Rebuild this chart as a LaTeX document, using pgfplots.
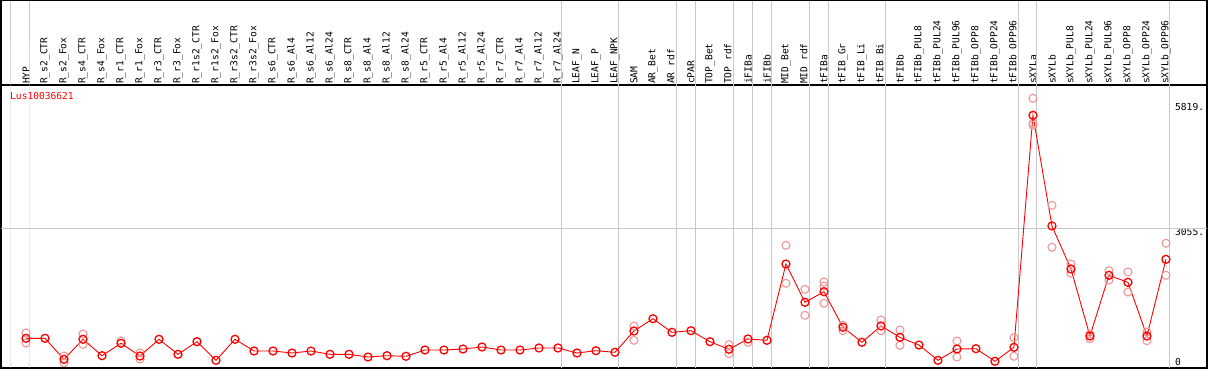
\documentclass[border=0pt]{standalone}
\usepackage{fontspec}
\setmonofont{DejaVu Sans Mono}
\usepackage{pgfplots}
\usepackage{pgfplotstable}
\pgfplotsset{compat=1.18}
\definecolor{rep}{RGB}{238,150,150}
\definecolor{gridg}{RGB}{200,200,200}
\newcommand{\pixfont}{\ttfamily\fontsize{9.6}{10}\selectfont}

\pgfplotstableread{
x y
1 613
2 613
3 148
4 591
5 228
6 503
7 221
8 591
9 259
10 538
11 126
12 591
13 332
14 332
15 288
16 332
17 259
18 259
19 199
20 228
21 215
22 354
23 354
24 376
25 421
26 354
27 354
28 399
29 399
30 288
31 339
32 303
33 775
34 1047
35 746
36 782
37 538
38 370
39 598
40 569
41 2258
42 1410
43 1645
44 857
45 525
46 886
47 635
48 465
49 126
50 376
51 383
52 104
53 414
54 5550
55 3100
56 2148
57 664
58 2008
59 1853
60 664
61 2362
}\means

\pgfplotstableread{
x y
1 731
1 509
3 221
3 73
4 708
4 480
6 553
7 288
7 155
33 886
33 569
38 472
38 272
39 525
41 2672
41 1831
42 1698
42 1122
43 1860
43 1771
43 1388
44 901
44 782
46 1018
46 782
47 797
47 458
50 553
50 199
53 627
53 215
54 5927
54 5373
54 5329
55 3558
55 2628
56 2258
56 2052
57 708
57 604
58 2110
58 1904
59 2081
59 1638
60 753
60 560
61 2717
61 2008
}\reps

\begin{document}
\begin{tikzpicture}
\path[use as bounding box] (-1pt,-2pt) rectangle (1208pt,368pt);
\begin{axis}[
  scale only axis, width=1206pt, height=283pt,
  xmin=-0.316, xmax=63.16, ymin=-44.3, ymax=6221,
  clip=false,
  axis line style={line width=1.2pt},
  major tick length=0pt,
  xtick={1,...,61},
  xticklabels={HYP,R\_s2\_CTR,R\_s2\_Fox,R\_s4\_CTR,R\_s4\_Fox,R\_r1\_CTR,R\_r1\_Fox,R\_r3\_CTR,R\_r3\_Fox,R\_r1s2\_CTR,R\_r1s2\_Fox,R\_r3s2\_CTR,R\_r3s2\_Fox,R\_s6\_CTR,R\_s6\_Al4,R\_s6\_Al12,R\_s6\_Al24,R\_s8\_CTR,R\_s8\_Al4,R\_s8\_Al12,R\_s8\_Al24,R\_r5\_CTR,R\_r5\_Al4,R\_r5\_Al12,R\_r5\_Al24,R\_r7\_CTR,R\_r7\_Al4,R\_r7\_Al12,R\_r7\_Al24,LEAF\_N,LEAF\_P,LEAF\_NPK,SAM,AR\_Bet,AR\_rdf,cPAR,TOP\_Bet,TOP\_rdf,iFIBa,iFIBb,MID\_Bet,MID\_rdf,tFIBa,tFIB\_Gr,tFIB\_Li,tFIB\_Bi,tFIBb,tFIBb\_PUL8,tFIBb\_PUL24,tFIBb\_PUL96,tFIBb\_OPP8,tFIBb\_OPP24,tFIBb\_OPP96,sXYLa,sXYLb,sXYLb\_PUL8,sXYLb\_PUL24,sXYLb\_PUL96,sXYLb\_OPP8,sXYLb\_OPP24,sXYLb\_OPP96},
  xticklabel pos=upper,
  x tick label style={rotate=90, anchor=west, font=\pixfont, inner sep=1pt},
  ytick={3055,5819}, yticklabels={3055.,5819.},
  yticklabel pos=right,
  y tick label style={anchor=north west, xshift=-32pt, font=\pixfont, inner sep=0pt},
  extra y ticks={0}, extra y tick labels={0},
  extra y tick style={y tick label style={anchor=south west}},
]
\pgfplotsinvokeforeach{0.21,1.21,29.21,32.21,35.24,36.24,38.24,39.24,40.24,42.24,43.24,46.24,53.24,54.21,61.21}{
  \draw[gridg, line width=1pt] (axis cs:#1,-44.3) -- (axis cs:#1,6221) -- ++(0pt,85pt);
}
\draw[gridg, line width=1pt] (axis cs:-0.316,3055) -- (axis cs:63.16,3055);
\draw[line width=1.2pt] (rel axis cs:0,1) -- ++(0pt,85pt) -| (rel axis cs:1,1);
\node[anchor=north west, text=red, font=\pixfont, inner sep=0pt] at ([xshift=9pt,yshift=-7pt]rel axis cs:0,1) {Lus10036621};
\addplot[only marks, mark=o, mark size=4pt, mark options={rep, line width=1.1pt}] table[x=x,y=y] {\reps};
\addplot[red, line width=0.9pt, mark=o, mark size=4pt, mark options={red, line width=1.3pt}] table[x=x,y=y] {\means};
\end{axis}
\end{tikzpicture}
\end{document}
